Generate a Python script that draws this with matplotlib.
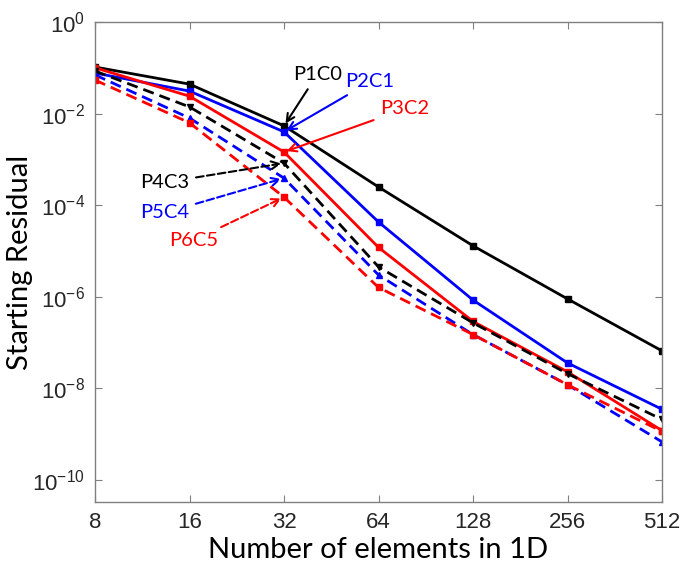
import matplotlib
matplotlib.use("Agg")
import matplotlib.pyplot as plt
import numpy as np

# ---- data ----
elements = [8, 16, 32, 64, 128, 256, 512]
x_tick_labels = ["8", "16", "32", "64", "128", "256", "512"]

p1c0 = [0.104, 0.044, 5.4e-3, 2.5e-4, 1.3e-5, 9.0e-7, 6.6e-8]
p2c1 = [0.077, 0.031, 4.0e-3, 4.3e-5, 8.5e-7, 3.6e-8, 3.5e-9]
p3c2 = [0.100, 0.024, 1.45e-3, 1.2e-5, 2.9e-7, 2.3e-8, 1.2e-9]
p4c3 = [0.085, 0.014, 8.3e-4, 4.5e-6, 2.7e-7, 2.1e-8, 2.1e-9]
p5c4 = [0.070, 8.0e-3, 3.9e-4, 3.0e-6, 1.5e-7, 1.2e-8, 6.8e-10]
p6c5 = [0.054, 6.3e-3, 1.5e-4, 1.6e-6, 1.5e-7, 1.2e-8, 1.15e-9]

series_names = ["P1C0", "P2C1", "P3C2", "P4C3", "P5C4", "P6C5"]
series_values = [p1c0, p2c1, p3c2, p4c3, p5c4, p6c5]

y_tick_exps = [0, -2, -4, -6, -8, -10]

# ---- style ----
colors = ["black", "#0000ff", "#ff0000", "black", "#0000ff", "#ff0000"]
styles = ["-", "-", "-", "--", "--", "--"]
markers = ["s", "s", "s", "v", "^", "s"]
# text offsets (points) from the value at 32 elements
offsets = [(24, 37), (62, 36), (87, 31), (-86, -14), (-86, -25), (-65, -31)]

plt.rcParams["mathtext.fontset"] = "custom"
plt.rcParams["mathtext.rm"] = "Liberation Sans"
plt.rcParams["mathtext.it"] = "Liberation Sans"

fig = plt.figure(figsize=(6.82, 5.69), dpi=100)
ax = fig.add_axes([95 / 682, 67 / 569, (662 - 95) / 682, (502 - 22) / 569])

for name, vals, c, ls, m in zip(series_names, series_values, colors, styles, markers):
    ax.plot(elements, vals, color=c, linestyle=ls, linewidth=2.0,
            marker=m, markersize=4.5, markerfacecolor=c, markeredgecolor=c,
            dashes=(4, 2.2) if ls == "--" else (None, None), label=name)

ax.set_xscale("log", base=2)
ax.set_yscale("log")
ax.set_xlim(8, 512)
ax.set_ylim(10 ** -10.48, 1.0)

ax.set_xticks(elements)
ax.set_xticklabels(x_tick_labels)
ax.xaxis.set_minor_locator(matplotlib.ticker.NullLocator())
ax.set_yticks([10.0 ** e for e in y_tick_exps])
ax.set_yticklabels([r"$10^{%d}$" % e for e in y_tick_exps])
ax.yaxis.set_minor_locator(matplotlib.ticker.NullLocator())

for lab in ax.get_xticklabels() + ax.get_yticklabels():
    lab.set_fontfamily("Liberation Sans")
    lab.set_fontsize(16)
    lab.set_color("#262626")

ax.tick_params(direction="in", length=5, width=0.8, color="#808080",
               top=True, right=True, pad=7)
for sp in ax.spines.values():
    sp.set_color("#808080")
    sp.set_linewidth(1.0)

ax.set_xlabel("Number of elements in 1D", fontfamily="Lato", fontsize=21)
ax.set_ylabel("Starting Residual", fontfamily="Lato", fontsize=21)
ax.xaxis.set_label_coords(0.5, -0.072)
ax.yaxis.set_label_coords(-0.11, 0.5)

# annotations pointing at the 32-element values
idx32 = elements.index(32)
for name, vals, c, ls, off in zip(series_names, series_values, colors, styles, offsets):
    ax.annotate(name, xy=(elements[idx32], vals[idx32]), xytext=off,
                textcoords="offset points", ha="center", va="center",
                fontfamily="Lato", fontsize=14.5, color=c,
                arrowprops=dict(arrowstyle="->", color=c, lw=1.5,
                                linestyle=ls, shrinkA=3, shrinkB=2,
                                mutation_scale=14))

fig.savefig("out.png", dpi=100)
